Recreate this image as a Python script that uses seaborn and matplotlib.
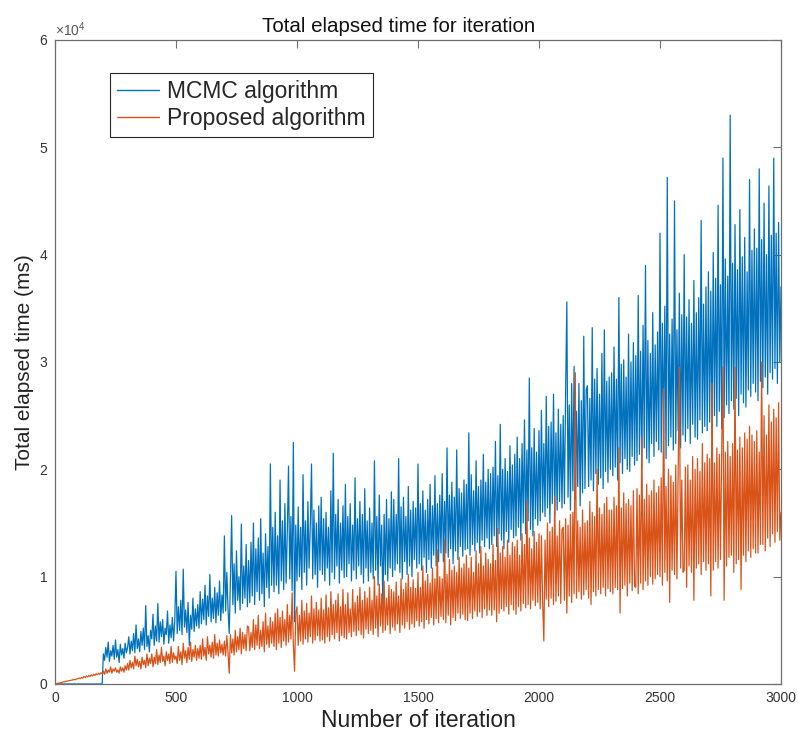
import numpy as np
import pandas as pd
import matplotlib
matplotlib.use("Agg")
import matplotlib.pyplot as plt
import seaborn as sns
from matplotlib.ticker import ScalarFormatter, MultipleLocator

# Iteration sample points (every 5 iterations, 0..3000)
iterations = np.arange(0, 3001, 5)

# Total elapsed time in thousands of ms (20 values per 100 iterations)
mcmc_k = [
    0, 0, 0, 0, 0, 0, 0, 0, 0, 0, 0, 0, 0, 0, 0, 0, 0, 0, 0, 0,
    0, 0, 0, 0, 0, 0, 0, 0, 0, 0, 0, 0, 0, 0, 0, 0, 0, 0, 0, 0,
    2.8, 2.2, 3.4, 2.5, 3.9, 2.1, 3.1, 2.6, 3.6, 2.3, 4.1, 2.5, 3.2, 2.0, 3.7, 2.7, 3.3, 2.4, 3.8, 2.9,
    3.4, 4.4, 2.8, 4.0, 3.1, 4.7, 2.9, 5.5, 3.3, 4.2, 3.0, 4.9, 3.6, 5.2, 3.2, 7.3, 3.5, 4.5, 3.0, 5.0,
    4.2, 6.5, 3.6, 5.4, 4.0, 7.5, 3.9, 5.8, 4.4, 6.0, 3.7, 5.2, 4.6, 6.8, 3.8, 5.5, 4.3, 6.2, 4.0, 5.9,
    10.5, 4.7, 7.2, 5.0, 7.8, 4.6, 10.7, 5.3, 6.9, 4.8, 7.6, 3.6, 6.4, 5.1, 8.0, 4.9, 7.0, 5.4, 7.4, 5.2,
    8.6, 5.6, 7.9, 6.0, 9.2, 5.5, 8.2, 6.3, 10.2, 5.8, 8.0, 6.1, 9.0, 5.7, 8.5, 6.4, 9.6, 5.9, 8.3, 6.6,
    13.8, 6.8, 10.4, 7.0, 4.7, 9.8, 15.7, 7.4, 11.2, 6.6, 12.4, 7.8, 10.0, 6.9, 14.9, 7.5, 11.0, 8.0, 13.0, 7.2,
    11.5, 7.6, 13.2, 8.2, 15.0, 7.4, 12.6, 8.6, 13.6, 7.8, 15.4, 8.4, 12.2, 7.2, 14.0, 9.0, 12.8, 8.0, 20.5, 9.2,
    14.6, 8.6, 16.0, 9.2, 13.8, 8.4, 19.0, 9.6, 15.2, 8.8, 16.8, 9.4, 14.2, 20.3, 9.8, 15.6, 8.7, 22.5, 5.8, 14.8,
    9.6, 16.5, 10.0, 14.6, 8.8, 19.5, 10.4, 15.2, 9.2, 17.0, 10.8, 14.8, 20.5, 9.8, 16.2, 10.2, 15.0, 9.0, 16.6, 10.6,
    17.4, 10.2, 15.4, 9.6, 16.0, 10.8, 14.6, 9.2, 18.0, 10.4, 21.5, 9.8, 15.8, 11.0, 17.2, 9.4, 15.0, 10.6, 16.6, 9.9,
    18.6, 10.0, 15.6, 11.2, 16.8, 9.6, 14.8, 10.6, 19.2, 9.8, 15.4, 11.0, 17.0, 10.2, 15.8, 9.4, 18.2, 10.8, 15.2, 9.6,
    16.4, 10.4, 15.0, 9.8, 20.8, 10.6, 15.6, 9.2, 17.6, 11.0, 14.8, 6.8, 15.8, 10.2, 17.2, 9.6, 15.4, 10.8, 17.9, 10.0,
    17.2, 10.6, 15.8, 11.2, 21.0, 10.4, 16.5, 9.8, 17.4, 11.4, 15.6, 10.2, 18.4, 11.0, 16.2, 10.0, 17.0, 11.6, 16.4, 10.8,
    20.5, 11.2, 16.8, 10.6, 18.0, 11.8, 16.2, 10.4, 17.2, 11.6, 18.6, 10.8, 16.6, 12.0, 19.4, 11.0, 16.8, 11.4, 17.6, 12.2,
    19.6, 11.4, 17.0, 12.2, 22.0, 11.8, 17.6, 12.6, 18.8, 11.2, 17.4, 12.4, 21.8, 11.6, 18.2, 12.8, 17.8, 11.9, 19.0, 12.5,
    18.6, 12.6, 23.4, 12.0, 19.5, 13.0, 18.0, 12.4, 20.8, 13.2, 18.4, 12.2, 19.0, 13.4, 21.4, 12.8, 18.8, 13.6, 20.0, 12.6,
    19.6, 13.0, 20.2, 13.8, 22.6, 12.8, 19.4, 14.0, 24.2, 13.4, 20.0, 12.6, 21.0, 14.2, 19.8, 13.2, 22.2, 14.4, 20.4, 13.6,
    21.4, 13.8, 23.0, 14.6, 21.0, 13.4, 22.4, 15.0, 24.6, 14.0, 21.8, 15.2, 28.5, 14.4, 22.0, 13.8, 23.8, 15.4, 21.6, 14.8,
    23.6, 15.2, 25.5, 16.0, 22.4, 15.6, 26.8, 16.4, 24.0, 15.0, 24.4, 16.8, 27.0, 15.8, 23.4, 16.2, 25.6, 17.0, 24.2, 16.4,
    25.0, 16.8, 27.2, 35.6, 17.4, 26.0, 16.2, 28.0, 18.0, 29.6, 17.2, 25.4, 18.4, 28.0, 16.6, 26.4, 17.8, 32.4, 18.2, 27.4,
    27.8, 18.4, 26.6, 19.0, 33.2, 18.0, 28.4, 19.6, 29.4, 18.6, 27.0, 19.2, 30.8, 18.2, 33.0, 19.8, 28.2, 18.8, 28.6, 20.0,
    29.0, 19.4, 31.4, 20.2, 28.4, 19.0, 36.0, 20.6, 29.8, 19.6, 30.2, 21.0, 28.6, 20.0, 32.6, 19.8, 30.0, 21.2, 31.8, 20.4,
    30.6, 20.8, 36.2, 21.4, 31.0, 20.2, 33.4, 22.0, 39.0, 21.0, 32.0, 20.6, 30.8, 22.4, 34.6, 21.2, 31.6, 22.6, 32.8, 21.8,
    42.0, 21.6, 33.6, 22.8, 35.2, 21.0, 47.2, 22.2, 32.6, 23.0, 34.0, 21.8, 45.0, 22.4, 33.0, 23.6, 36.4, 22.0, 34.4, 23.2,
    40.0, 22.6, 34.2, 23.8, 35.8, 22.4, 33.6, 24.2, 37.6, 23.0, 34.6, 22.8, 36.0, 24.6, 43.2, 23.4, 35.4, 24.0, 37.0, 23.6,
    38.4, 24.4, 36.6, 23.2, 40.2, 25.0, 37.8, 24.0, 44.6, 25.4, 37.2, 23.8, 49.0, 24.8, 39.6, 26.0, 38.0, 25.2, 53.0, 26.4,
    39.2, 25.6, 42.8, 26.6, 38.6, 25.0, 44.2, 27.0, 39.8, 26.2, 41.6, 25.8, 38.4, 27.4, 47.0, 26.8, 40.4, 28.0, 42.4, 27.2,
    40.6, 26.4, 48.0, 28.2, 41.4, 27.6, 44.8, 28.6, 40.0, 27.0, 46.4, 29.0, 41.8, 28.4, 49.0, 29.4, 42.0, 28.0, 43.0, 30.0,
    37.0,
]

proposed_k = [
    0.0, 0.03, 0.05, 0.08, 0.1, 0.13, 0.15, 0.2, 0.2, 0.25, 0.25, 0.3, 0.3, 0.35, 0.35, 0.4, 0.42, 0.4, 0.48, 0.5,
    0.55, 0.5, 0.6, 0.55, 0.7, 0.6, 0.75, 0.65, 0.8, 0.7, 0.85, 0.75, 0.9, 0.8, 0.95, 0.85, 1.0, 0.9, 1.05, 0.95,
    1.2, 0.9, 1.4, 1.0, 1.3, 1.1, 1.6, 1.0, 1.4, 1.2, 1.5, 1.1, 1.3, 1.0, 1.6, 1.2, 1.5, 1.1, 1.7, 1.3,
    1.9, 1.3, 2.2, 1.5, 2.0, 1.4, 2.6, 1.7, 2.3, 1.6, 2.1, 1.4, 2.5, 1.8, 2.2, 1.5, 2.8, 1.7, 2.4, 1.9,
    2.8, 1.6, 2.5, 1.9, 3.2, 1.8, 2.7, 2.0, 3.4, 2.1, 2.6, 1.7, 3.0, 2.2, 2.8, 1.9, 3.5, 2.0, 2.9, 2.3,
    2.6, 1.9, 3.5, 2.2, 3.0, 1.8, 3.8, 2.4, 3.1, 2.0, 3.4, 2.3, 3.9, 2.1, 3.2, 2.5, 3.6, 2.2, 3.3, 2.4,
    3.6, 2.3, 4.2, 2.6, 3.4, 2.2, 4.4, 2.8, 3.6, 2.5, 3.9, 2.4, 4.6, 2.7, 3.8, 2.6, 4.1, 2.9, 3.7, 2.7,
    4.0, 2.6, 4.5, 2.9, 1.0, 4.6, 2.9, 4.2, 2.7, 5.0, 3.0, 4.4, 3.2, 5.2, 2.8, 4.8, 3.3, 4.6, 3.1, 5.4,
    5.3, 3.1, 4.8, 3.4, 6.0, 3.2, 5.5, 3.6, 6.4, 3.3, 5.0, 3.5, 5.8, 3.0, 6.6, 3.7, 5.4, 3.4, 6.2, 3.8,
    5.8, 3.5, 6.6, 3.2, 7.0, 3.8, 6.2, 3.4, 6.8, 4.0, 6.0, 3.6, 7.4, 3.9, 6.4, 4.2, 8.5, 3.7, 1.2, 6.6,
    7.2, 3.6, 6.4, 4.0, 7.8, 3.7, 6.8, 4.2, 7.5, 3.9, 6.6, 4.4, 8.2, 3.8, 7.0, 4.1, 7.6, 4.5, 6.9, 4.0,
    8.0, 4.1, 6.9, 3.8, 8.3, 4.4, 7.1, 4.0, 8.6, 4.6, 7.4, 4.2, 7.8, 4.8, 8.4, 4.0, 7.2, 4.5, 8.8, 4.3,
    7.4, 4.2, 8.5, 4.8, 7.0, 4.4, 8.8, 4.9, 7.6, 4.5, 8.2, 5.0, 9.0, 4.6, 7.8, 4.3, 8.6, 5.1, 8.0, 4.7,
    9.0, 5.0, 7.8, 4.6, 10.0, 5.2, 8.2, 4.4, 9.3, 5.4, 8.4, 4.8, 9.6, 5.0, 8.0, 5.5, 9.2, 4.7, 8.8, 5.3,
    8.6, 5.0, 9.5, 5.6, 8.2, 4.8, 9.8, 5.5, 8.8, 5.2, 9.4, 5.8, 10.2, 5.1, 9.0, 5.6, 9.7, 5.3, 8.9, 5.9,
    10.4, 5.4, 9.0, 5.8, 11.0, 5.2, 9.6, 6.0, 10.2, 5.6, 9.4, 6.2, 10.8, 5.5, 9.8, 6.1, 12.5, 5.7, 10.0, 6.3,
    9.8, 6.0, 13.5, 5.7, 10.2, 6.4, 11.6, 5.5, 10.6, 6.2, 11.0, 5.9, 10.4, 6.6, 11.8, 6.1, 10.8, 6.5, 11.2, 6.0,
    12.0, 5.9, 10.8, 6.6, 11.8, 6.1, 10.4, 6.8, 12.4, 6.3, 11.2, 6.7, 12.8, 6.2, 11.0, 7.0, 12.2, 6.4, 11.6, 6.9,
    11.2, 6.4, 13.0, 6.9, 11.5, 5.8, 14.5, 6.6, 12.2, 7.0, 12.8, 6.8, 11.8, 7.2, 13.4, 6.5, 12.0, 7.4, 13.2, 6.9,
    12.8, 6.5, 13.4, 7.2, 12.0, 6.8, 14.0, 7.5, 13.0, 7.1, 17.0, 7.4, 13.6, 7.0, 12.6, 7.8, 14.2, 7.3, 13.2, 7.6,
    14.0, 7.0, 13.8, 7.6, 4.0, 13.4, 7.9, 15.0, 7.2, 14.2, 8.0, 14.6, 7.4, 17.5, 7.7, 13.8, 8.2, 15.2, 7.5, 14.4,
    14.6, 7.8, 15.4, 6.6, 14.8, 8.2, 15.8, 7.6, 16.0, 8.4, 29.0, 8.0, 15.2, 8.6, 14.6, 7.9, 16.2, 8.3, 15.0, 8.8,
    15.2, 8.0, 17.0, 7.4, 16.0, 8.6, 15.6, 8.2, 20.0, 8.8, 16.4, 8.4, 15.8, 9.0, 16.8, 8.2, 17.4, 8.9, 16.2, 8.6,
    16.2, 8.4, 17.4, 9.0, 16.6, 8.8, 22.0, 6.6, 16.4, 8.9, 17.8, 9.2, 16.8, 8.2, 17.2, 9.4, 16.6, 8.7, 18.0, 9.1,
    9.0, 18.2, 8.4, 17.6, 9.4, 23.0, 8.8, 17.2, 9.6, 18.6, 9.2, 17.6, 10.0, 18.0, 9.3, 19.0, 9.8, 17.8, 10.2, 18.4,
    10.0, 19.2, 9.2, 27.5, 10.4, 18.4, 9.6, 20.0, 7.6, 19.4, 10.6, 18.8, 10.2, 20.4, 9.8, 19.6, 29.5, 10.8, 19.0, 10.4,
    10.6, 20.2, 9.0, 20.4, 11.0, 19.0, 10.4, 21.2, 7.8, 20.0, 10.8, 21.0, 11.2, 19.8, 10.2, 22.4, 11.4, 20.6, 10.6, 21.4,
    11.2, 21.0, 8.2, 28.0, 10.6, 20.6, 11.4, 22.0, 10.8, 21.4, 11.6, 21.8, 29.5, 7.8, 21.6, 11.0, 22.6, 11.8, 21.2, 12.0,
    22.4, 10.4, 29.5, 11.2, 21.8, 11.6, 23.0, 8.8, 22.0, 12.0, 23.4, 11.4, 22.8, 12.4, 24.0, 11.8, 23.2, 12.6, 22.6, 12.2,
    23.6, 12.2, 21.6, 13.0, 30.0, 13.0, 25.0, 12.4, 23.2, 13.6, 26.0, 12.8, 24.4, 14.0, 25.6, 13.2, 24.8, 14.2, 26.2, 13.4,
    16.0,
]

series_names = ["MCMC algorithm", "Proposed algorithm"]
title_text = "Total elapsed time for iteration"
xlabel_text = "Number of iteration"
ylabel_text = "Total elapsed time (ms)"
x_ticks = [0, 500, 1000, 1500, 2000, 2500, 3000]

assert len(mcmc_k) == len(iterations) and len(proposed_k) == len(iterations)

df = pd.concat([
    pd.DataFrame({"iter": iterations, "ms": np.array(mcmc_k) * 1000.0, "alg": series_names[0]}),
    pd.DataFrame({"iter": iterations, "ms": np.array(proposed_k) * 1000.0, "alg": series_names[1]}),
])

sns.set_style("white")
plt.rcParams["font.family"] = ["Liberation Sans", "DejaVu Sans"]
plt.rcParams["mathtext.fontset"] = "custom"
plt.rcParams["mathtext.rm"] = "Liberation Sans"

fig = plt.figure(figsize=(7.98, 7.38), dpi=100)
ax = fig.add_axes([0.0689, 0.0732, 0.9098, 0.8726])

palette = {series_names[0]: "#0072BD", series_names[1]: "#D95319"}
sns.lineplot(data=df, x="iter", y="ms", hue="alg", palette=palette,
             estimator=None, errorbar=None, linewidth=0.9, ax=ax, sort=False)

ax.set_xlim(0, 3000)
ax.set_ylim(0, 60000)
ax.set_xticks(x_ticks)
ax.yaxis.set_major_locator(MultipleLocator(10000))
fmt = ScalarFormatter(useMathText=True)
fmt.set_powerlimits((0, 0))
ax.yaxis.set_major_formatter(fmt)

axis_col = "#6e6e6e"
for s in ax.spines.values():
    s.set_visible(True)
    s.set_color(axis_col)
    s.set_linewidth(0.9)
ax.tick_params(direction="in", length=6, width=0.8, color=axis_col,
               top=True, right=True, labelsize=10, labelcolor="#333333", pad=5)
ax.yaxis.get_offset_text().set_fontsize(10)
ax.yaxis.get_offset_text().set_color("#555555")

ax.set_title(title_text, fontsize=14.8, color="#111111", pad=6, x=0.474)
ax.set_xlabel(xlabel_text, fontsize=16.5, color="#222222", labelpad=3)
ax.set_ylabel(ylabel_text, fontsize=15, color="#222222", labelpad=3)

leg = ax.legend(loc="upper left", bbox_to_anchor=(0.0758, 0.9488),
                fontsize=16.5, frameon=True, fancybox=False, framealpha=1,
                edgecolor="#262626", handlelength=1.85, borderpad=0.3,
                labelspacing=0.2, handletextpad=0.35, borderaxespad=0)
leg.get_frame().set_linewidth(0.8)
for line in leg.get_lines():
    line.set_linewidth(1.0)

fig.savefig("out.png", dpi=100)
